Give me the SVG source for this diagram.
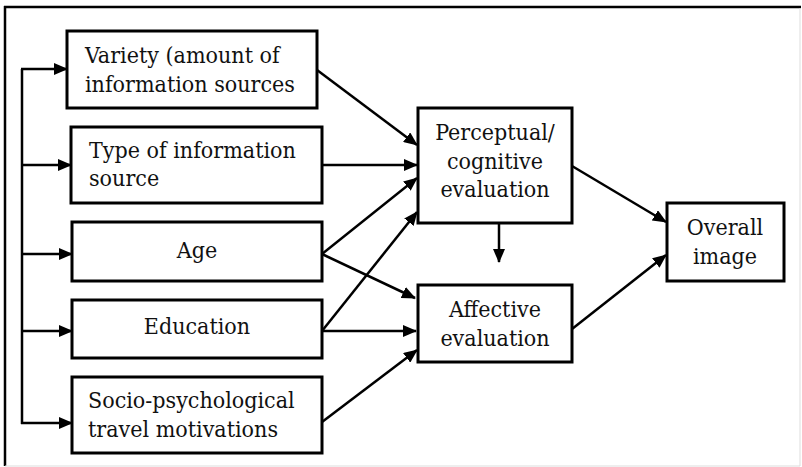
<svg xmlns="http://www.w3.org/2000/svg" width="802" height="467" viewBox="0 0 802 467">
  <defs>
    <marker id="arrow" markerUnits="userSpaceOnUse" markerWidth="14" markerHeight="12" refX="13" refY="6" orient="auto">
      <path d="M0,0 L14,6 L0,12 Z" fill="#000"/>
    </marker>
    <style>
      .box { fill: #fff; stroke: #000; stroke-width: 3; }
      .lbl { font-family: 'DejaVu Serif Condensed', 'DejaVu Serif', serif; font-stretch: condensed; font-size: 23px; fill: #111; }
      .mid { text-anchor: middle; }
      .wire { fill: none; stroke: #000; stroke-width: 2.5; }
      .link { fill: none; stroke: #000; stroke-width: 2.5; marker-end: url(#arrow); }
    </style>
  </defs>

  <rect width="802" height="467" fill="#fff"/>

  <!-- frame -->
  <g id="frame">
    <line x1="4" y1="7" x2="801" y2="7" stroke="#000" stroke-width="2.5"/>
    <line x1="5" y1="6" x2="5" y2="466" stroke="#000" stroke-width="2.5"/>
    <line x1="800" y1="8" x2="800" y2="466" stroke="#ddd" stroke-width="1"/>
    <line x1="5" y1="466" x2="800" y2="466" stroke="#ddd" stroke-width="1"/>
  </g>

  <!-- connectors -->
  <g id="connectors">
    <line class="wire" x1="22" y1="69" x2="22" y2="424"/>
    <line class="link" x1="21" y1="69" x2="67" y2="69"/>
    <line class="link" x1="21" y1="165" x2="71" y2="165"/>
    <line class="link" x1="21" y1="254" x2="72" y2="254"/>
    <line class="link" x1="21" y1="331" x2="72" y2="331"/>
    <line class="link" x1="21" y1="423" x2="72" y2="423"/>

    <line class="link" x1="317" y1="70" x2="417" y2="145"/>
    <line class="link" x1="322" y1="165" x2="417" y2="165"/>
    <line class="link" x1="322" y1="254" x2="417" y2="178"/>
    <line class="link" x1="322" y1="331" x2="417" y2="212"/>
    <line class="link" x1="322" y1="254" x2="415" y2="298"/>
    <line class="link" x1="322" y1="331" x2="416" y2="331"/>
    <line class="link" x1="322" y1="422" x2="417" y2="350"/>

    <line class="link" x1="499" y1="223" x2="499" y2="262"/>

    <line class="link" x1="572" y1="166" x2="666" y2="222"/>
    <line class="link" x1="572" y1="329" x2="666" y2="255"/>
  </g>

  <g id="variety">
    <rect class="box" x="67" y="31" width="250" height="77"/>
    <text class="lbl" x="85" y="63">Variety (amount of</text>
    <text class="lbl" x="85" y="92">information sources</text>
  </g>

  <g id="type">
    <rect class="box" x="71" y="127" width="251" height="76"/>
    <text class="lbl" x="89" y="158">Type of information</text>
    <text class="lbl" x="89" y="186">source</text>
  </g>

  <g id="age">
    <rect class="box" x="72" y="222" width="250" height="59"/>
    <text class="lbl mid" x="197" y="258">Age</text>
  </g>

  <g id="education">
    <rect class="box" x="72" y="300" width="250" height="58"/>
    <text class="lbl mid" x="197" y="334">Education</text>
  </g>

  <g id="socio">
    <rect class="box" x="72" y="377" width="250" height="76"/>
    <text class="lbl" x="88" y="408">Socio-psychological</text>
    <text class="lbl" x="88" y="437">travel motivations</text>
  </g>

  <g id="perceptual">
    <rect class="box" x="418" y="108" width="154" height="115"/>
    <text class="lbl mid" x="495" y="140">Perceptual/</text>
    <text class="lbl mid" x="495" y="169">cognitive</text>
    <text class="lbl mid" x="495" y="197">evaluation</text>
  </g>

  <g id="affective">
    <rect class="box" x="418" y="285" width="154" height="77"/>
    <text class="lbl mid" x="495" y="317">Affective</text>
    <text class="lbl mid" x="495" y="346">evaluation</text>
  </g>

  <g id="overall">
    <rect class="box" x="667" y="203" width="117" height="78"/>
    <text class="lbl mid" x="725" y="235">Overall</text>
    <text class="lbl mid" x="725" y="264">image</text>
  </g>
</svg>
